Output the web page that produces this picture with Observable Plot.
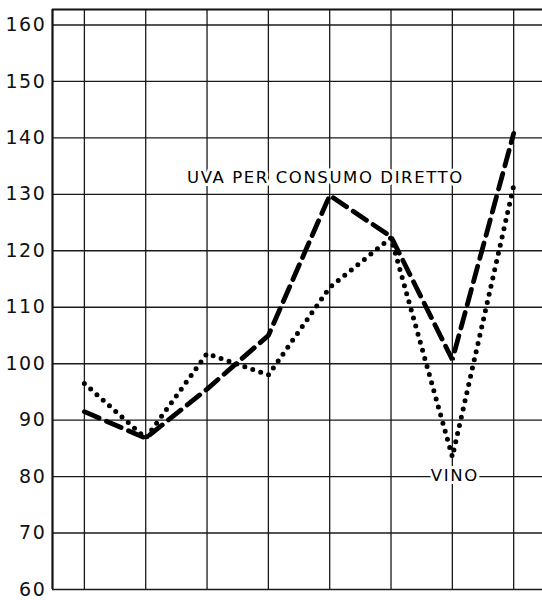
<!DOCTYPE html>
<html>
<head>
<meta charset="utf-8">
<script src="https://cdn.jsdelivr.net/npm/d3@7"></script>
<script src="https://cdn.jsdelivr.net/npm/@observablehq/plot@0.6"></script>
<style>
  html, body { margin: 0; padding: 0; background: #fff; }
  #chart svg { display: block; }
</style>
</head>
<body>
<div id="chart"></div>
<script>
// Data (index values, periods 0..7)
const periods = [0, 1, 2, 3, 4, 5, 6, 7];
const uvaConsumo = [91.5, 86.8, 95.5, 105, 129.8, 122.5, 100.7, 140.8];
const vino = [96.5, 86.8, 101.8, 98, 113.5, 122.3, 83.5, 131.5];
const yTicks = [60, 70, 80, 90, 100, 110, 120, 130, 140, 150, 160];
const labelText = ["UVA PER CONSUMO DIRETTO", "VINO"];
const labelX = [3.93, 6.04];
const labelY = [133.0, 80.1];

const uvaRows = periods.map((p, i) => ({p, v: uvaConsumo[i]}));
const vinoRows = periods.map((p, i) => ({p, v: vino[i]}));
const labels = labelText.map((t, i) => ({t, x: labelX[i], y: labelY[i]}));

const xDomain = [-0.52, 7.47];
const yDomain = [60, 162.74];

const chart = Plot.plot({
  width: 542,
  height: 600,
  marginLeft: 52,
  marginRight: 0,
  marginTop: 9,
  marginBottom: 11,
  x: {domain: xDomain, axis: null},
  y: {domain: yDomain, axis: null},
  style: {background: "#fff"},
  marks: [
    Plot.ruleY(yTicks, {stroke: "#1a1a1a", strokeWidth: 1.4}),
    Plot.ruleX(periods, {stroke: "#1a1a1a", strokeWidth: 1.3}),
    Plot.ruleX([xDomain[0]], {stroke: "#111", strokeWidth: 2.2}),
    Plot.ruleY([yDomain[1]], {stroke: "#111", strokeWidth: 2}),
    Plot.axisY({
      ticks: yTicks,
      tickSize: 0,
      tickPadding: 6,
      fontSize: 19,
      fontFamily: "DejaVu Sans",
      fill: "#111",
      tickFormat: d => String(d)
    }),
    Plot.line(uvaRows, {
      x: "p", y: "v",
      stroke: "#000", strokeWidth: 4.8,
      strokeDasharray: "16,8",
      strokeLinejoin: "miter"
    }),
    Plot.line(vinoRows, {
      x: "p", y: "v",
      stroke: "#000", strokeWidth: 5,
      strokeDasharray: "0,8.4",
      strokeLinecap: "round",
      strokeLinejoin: "round"
    }),
    Plot.text(labels, {
      x: "x", y: "y", text: "t",
      fontSize: 16.5,
      fontFamily: "DejaVu Sans",
      fill: "#000",
      stroke: "#fff",
      strokeWidth: 6
    })
  ]
});
d3.select(chart).selectAll("g[aria-label='text'] text").attr("letter-spacing", "1.6px");
d3.select(chart).selectAll("g[aria-label='y-axis tick label'] text").attr("letter-spacing", "1.6px");
document.getElementById("chart").appendChild(chart);
</script>
</body>
</html>
